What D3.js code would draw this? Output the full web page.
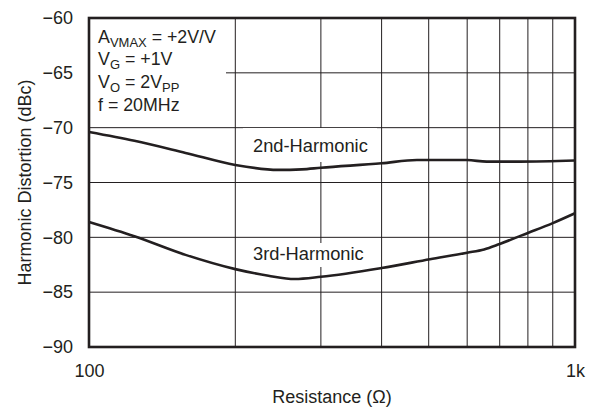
<!DOCTYPE html>
<html><head><meta charset="utf-8">
<script src="https://cdn.jsdelivr.net/npm/d3@7"></script>
<style>
html,body{margin:0;padding:0;background:#fff;}
svg text{font-family:"Liberation Sans",Arial,Helvetica,sans-serif;fill:#231f20;}
</style></head>
<body>
<svg id="chart" width="594" height="412"></svg>
<script>
const yTicks = [-60, -65, -70, -75, -80, -85, -90];
const xTickLabels = [{v:100, t:"100"}, {v:1000, t:"1k"}];
const xGrid = [200, 300, 400, 500, 600, 700, 800, 900];

const res2 = [100, 124, 158, 200, 245, 274, 300, 400, 473, 600, 658, 770, 1000];
const hd2  = [-70.4, -71.2, -72.3, -73.4, -73.85, -73.8, -73.65, -73.25, -72.95, -72.95, -73.1, -73.1, -73.0];
const res3 = [100, 124, 158, 200, 234, 265, 300, 400, 503, 600, 650, 700, 800, 900, 1000];
const hd3  = [-78.6, -79.9, -81.6, -82.9, -83.5, -83.8, -83.6, -82.8, -82.0, -81.4, -81.1, -80.6, -79.6, -78.7, -77.8];

const L = 89, R = 575, T = 18, B = 347;
const svg = d3.select("#chart");
const x = d3.scaleLog().domain([100, 1000]).range([L, R]);
const y = d3.scaleLinear().domain([-90, -60]).range([B, T]);
const ink = "#231f20";

// grid
svg.append("g").selectAll("line").data(xGrid).join("line")
  .attr("x1", d => x(d)).attr("x2", d => x(d)).attr("y1", T).attr("y2", B)
  .attr("stroke", ink).attr("stroke-width", 1);
svg.append("g").selectAll("line").data(yTicks.slice(1, -1)).join("line")
  .attr("x1", L).attr("x2", R).attr("y1", d => y(d)).attr("y2", d => y(d))
  .attr("stroke", ink).attr("stroke-width", 1);

// white boxes behind labels
const boxes = [[L+1, T+1, 226, 120], [243, 128, 377, 162], [243, 243, 377, 267]];
svg.append("g").selectAll("rect").data(boxes).join("rect")
  .attr("x", d => d[0]).attr("y", d => d[1])
  .attr("width", d => d[2]-d[0]).attr("height", d => d[3]-d[1])
  .attr("fill", "#fff");

// curves
const line = d3.line().x(d => x(d[0])).y(d => y(d[1])).curve(d3.curveMonotoneX);
svg.append("path").datum(res2.map((r,i)=>[r,hd2[i]])).attr("d", line)
  .attr("fill","none").attr("stroke", ink).attr("stroke-width", 2.6);
svg.append("path").datum(res3.map((r,i)=>[r,hd3[i]])).attr("d", line)
  .attr("fill","none").attr("stroke", ink).attr("stroke-width", 2.6);

// frame
svg.append("rect").attr("x", L).attr("y", T).attr("width", R-L).attr("height", B-T)
  .attr("fill","none").attr("stroke", ink).attr("stroke-width", 2.6);

// axes
const yAxis = d3.axisLeft(y).tickValues(yTicks).tickSize(0).tickPadding(16)
  .tickFormat(d => "\u2212" + Math.abs(d));
svg.append("g").attr("transform", `translate(${L},0)`).call(yAxis)
  .call(g => g.select(".domain").remove())
  .selectAll("text").attr("font-size", 18).attr("font-family", null).attr("fill", ink);

const xAxis = d3.axisBottom(x).tickValues(xTickLabels.map(d=>d.v)).tickSize(0).tickPadding(17)
  .tickFormat((d,i) => xTickLabels[i].t);
svg.append("g").attr("transform", `translate(0,${B})`).call(xAxis)
  .call(g => g.select(".domain").remove())
  .selectAll("text").attr("font-size", 18).attr("font-family", null).attr("fill", ink);

// axis titles
svg.append("text").attr("x", (L+R)/2).attr("y", 403).attr("text-anchor","middle")
  .attr("font-size", 18).text("Resistance (\u03A9)");
svg.append("text").attr("transform", `translate(31,${(T+B)/2}) rotate(-90)`)
  .attr("text-anchor","middle").attr("font-size", 18).text("Harmonic Distortion (dBc)");

// curve labels
svg.append("text").attr("x", 253).attr("y", 152).attr("font-size", 18.3).text("2nd-Harmonic");
svg.append("text").attr("x", 253).attr("y", 260).attr("font-size", 18.3).text("3rd-Harmonic");

// annotation
const ann = [
  [["A",""],["VMAX","sub"],[" = +2V/V",""]],
  [["V",""],["G","sub"],[" = +1V",""]],
  [["V",""],["O","sub"],[" = 2V",""],["PP","sub"]],
  [["f = 20MHz",""]]
];
const baselines = [43, 65, 88, 111];
ann.forEach((parts, i) => {
  const t = svg.append("text").attr("x", 98).attr("y", baselines[i]).attr("font-size", 17.8);
  parts.forEach((p, j) => {
    const prev = j > 0 ? parts[j-1][1] : "";
    let dy = 0;
    if (p[1] === "sub" && prev !== "sub") dy = 4;
    else if (p[1] !== "sub" && prev === "sub") dy = -4;
    const s = t.append("tspan").attr("dy", dy).text(p[0]);
    if (p[1] === "sub") s.attr("font-size", 13);
  });
});
</script>
</body></html>
